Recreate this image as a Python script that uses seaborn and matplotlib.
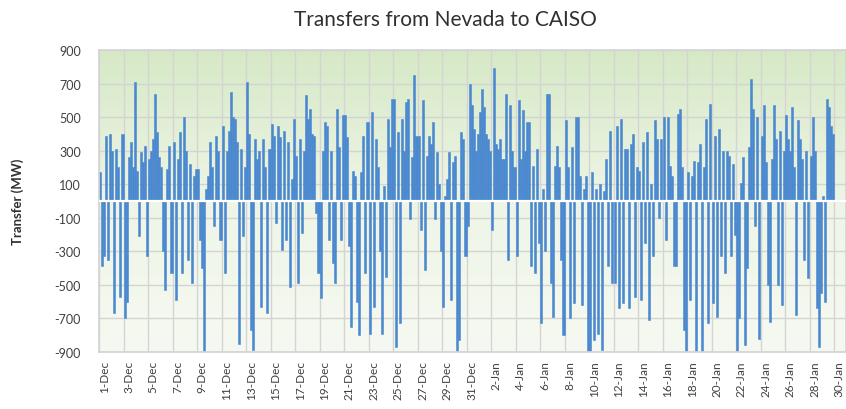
import numpy as np
import pandas as pd
import matplotlib
import matplotlib.pyplot as plt
import seaborn as sns
from matplotlib.colors import LinearSegmentedColormap

matplotlib.use('Agg')
sns.set_theme(style='white')
plt.rcParams['font.family'] = ['Lato', 'DejaVu Sans']

# hourly transfers, averaged into 4-hour blocks (6 per day)
# one row per day, starting 1-Dec
transfer_mw = [
    [170, -390, -330, 390, -350, 400],     # 1-Dec
    [300, -670, 310, 200, -570, 400],
    [-700, -600, 260, 350, 200, 710],
    [180, -210, 290, 230, 330, -330],
    [250, 300, 370, 640, 410, 260],
    [200, -300, -530, 190, 330, -430],
    [350, -590, 250, 410, -430, 500],
    [300, -350, 220, -490, 150, 190],
    [190, -230, -400, -900, 70, 150],
    [350, 200, -150, 390, 300, -230],
    [450, -430, 300, 420, 650, 500],       # 11-Dec
    [490, 350, -850, 310, -210, 200],
    [710, 400, -770, -890, 370, 250],
    [300, -630, 370, 200, -670, 310],
    [460, 390, -130, 450, 380, -290],
    [420, -230, 350, -510, 130, 490],
    [270, -490, 370, -190, 300, 630],
    [490, 550, 400, 390, -70, -430],
    [-580, 300, 470, 450, -230, 300],
    [-370, -490, 550, 320, -230, 510],
    [510, 380, -270, -750, 180, 150],      # 21-Dec
    [-600, -800, 170, 390, -430, 470],
    [-790, 530, -630, 370, 200, -300],
    [-790, 90, -450, 490, 320, 610],
    [610, -870, 410, -730, 490, 300],
    [590, 610, -110, 260, 750, 390],
    [390, -170, 600, -410, 270, 390],
    [340, 470, -110, 290, 100, -300],
    [-630, 30, 130, 290, -590, 230],
    [270, -900, -830, 410, 370, -330],
    [-150, 700, 570, 430, 300, 400],       # 31-Dec
    [530, 670, 560, 400, 370, 300],        # 1-Jan
    [-170, 790, 340, 310, 370, 250],
    [250, 640, -350, 570, 300, 200],
    [-330, 600, 250, 540, 300, 470],
    [470, -390, 210, -430, 310, -250],
    [-730, 70, -300, 640, 640, -490],
    [-690, 210, 330, 200, -350, -800],
    [480, 200, -700, 320, -610, 500],
    [500, 150, -620, 70, 150, -900],
    [-900, 170, -830, 70, -790, 100],      # 10-Jan
    [-890, 60, 250, -390, 420, -490],
    [-490, 450, -640, 490, -610, 310],
    [310, -640, 340, 400, -570, 200],
    [180, -590, 350, -250, 410, -710],
    [100, -330, 480, 370, -100, 370],
    [500, -230, 500, 210, 150, -390],
    [-390, 520, 550, 200, -770, -900],
    [170, -590, 150, 240, -900, 230],
    [340, -900, 200, 490, -730, 580],
    [-610, 390, -690, 430, -330, 300],     # 20-Jan
    [-430, 300, 270, -330, 220, -200],
    [-900, -700, 110, 260, -860, -400],
    [320, 730, 550, -150, 500, -820],
    [390, 570, 230, -500, -720, 250],
    [570, 370, -500, 420, -620, 300],
    [510, 370, 300, 560, 200, -680],
    [480, 370, 250, -350, 300, -460],
    [270, 500, 300, -640, -870, -550],
    [30, -600, 610, 560, 450, 400],        # 29-Jan
]

date_labels = ['1-Dec', '3-Dec', '5-Dec', '7-Dec', '9-Dec', '11-Dec', '13-Dec', '15-Dec',
               '17-Dec', '19-Dec', '21-Dec', '23-Dec', '25-Dec', '27-Dec', '29-Dec', '31-Dec',
               '2-Jan', '4-Jan', '6-Jan', '8-Jan', '10-Jan', '12-Jan', '14-Jan', '16-Jan',
               '18-Jan', '20-Jan', '22-Jan', '24-Jan', '26-Jan', '28-Jan', '30-Jan']
y_ticks = [-900, -700, -500, -300, -100, 100, 300, 500, 700, 900]

n_days = 61
bar_color = '#4a88cf'
values = np.array(transfer_mw).ravel()
df = pd.DataFrame({'hour': np.arange(len(values)) * 4 + 2, 'mw': values})

fig = plt.figure(figsize=(8.46, 4.10), dpi=100)
# axis runs past the right edge like the cropped original
ax = fig.add_axes([99 / 846, 57 / 410, n_days * 12.25 / 846, 302 / 410])

# green to white gradient background
grad = LinearSegmentedColormap.from_list('bg', ['#f6f9f1', '#eef5e6', '#d6e9c6'])
ax.imshow(np.linspace(0, 1, 256).reshape(-1, 1), cmap=grad, origin='lower',
          extent=[0, n_days * 24, -900, 900], aspect='auto', zorder=0)

for y in y_ticks:
    ax.axhline(y, color='#d4d4d4', lw=1, zorder=1)
for d in range(0, n_days + 1, 2):
    ax.axvline(d * 24, color='#d4d4d4', lw=1, zorder=1)

sns.barplot(data=df, x='hour', y='mw', native_scale=True, color=bar_color,
            saturation=1, width=1.0, linewidth=0.4, edgecolor=bar_color, ax=ax, zorder=2)
ax.axhline(0, color='white', lw=1.6, zorder=3)

ax.set_xlim(0, n_days * 24)
ax.set_ylim(-900, 900)
ax.set_yticks(y_ticks)
ax.set_yticklabels([str(v) for v in y_ticks], fontsize=9, color='#404040')
ax.set_xticks(np.arange(len(date_labels)) * 48 + 10)
ax.set_xticklabels(date_labels, rotation=90, fontsize=8.5, color='#404040')
ax.tick_params(axis='y', length=0, pad=13)
ax.tick_params(axis='x', length=0, pad=6)
ax.set_xlabel('')
ax.set_ylabel('Transfer (MW)', fontsize=9.5, fontweight='bold', color='#303030', labelpad=22)
for s in ax.spines.values():
    s.set_color('#d4d4d4')

fig.text(445 / 846, 1 - 20 / 410, 'Transfers from Nevada to CAISO', ha='center', va='center',
         fontsize=15, color='#303030')

fig.savefig('out.png', dpi=100)
